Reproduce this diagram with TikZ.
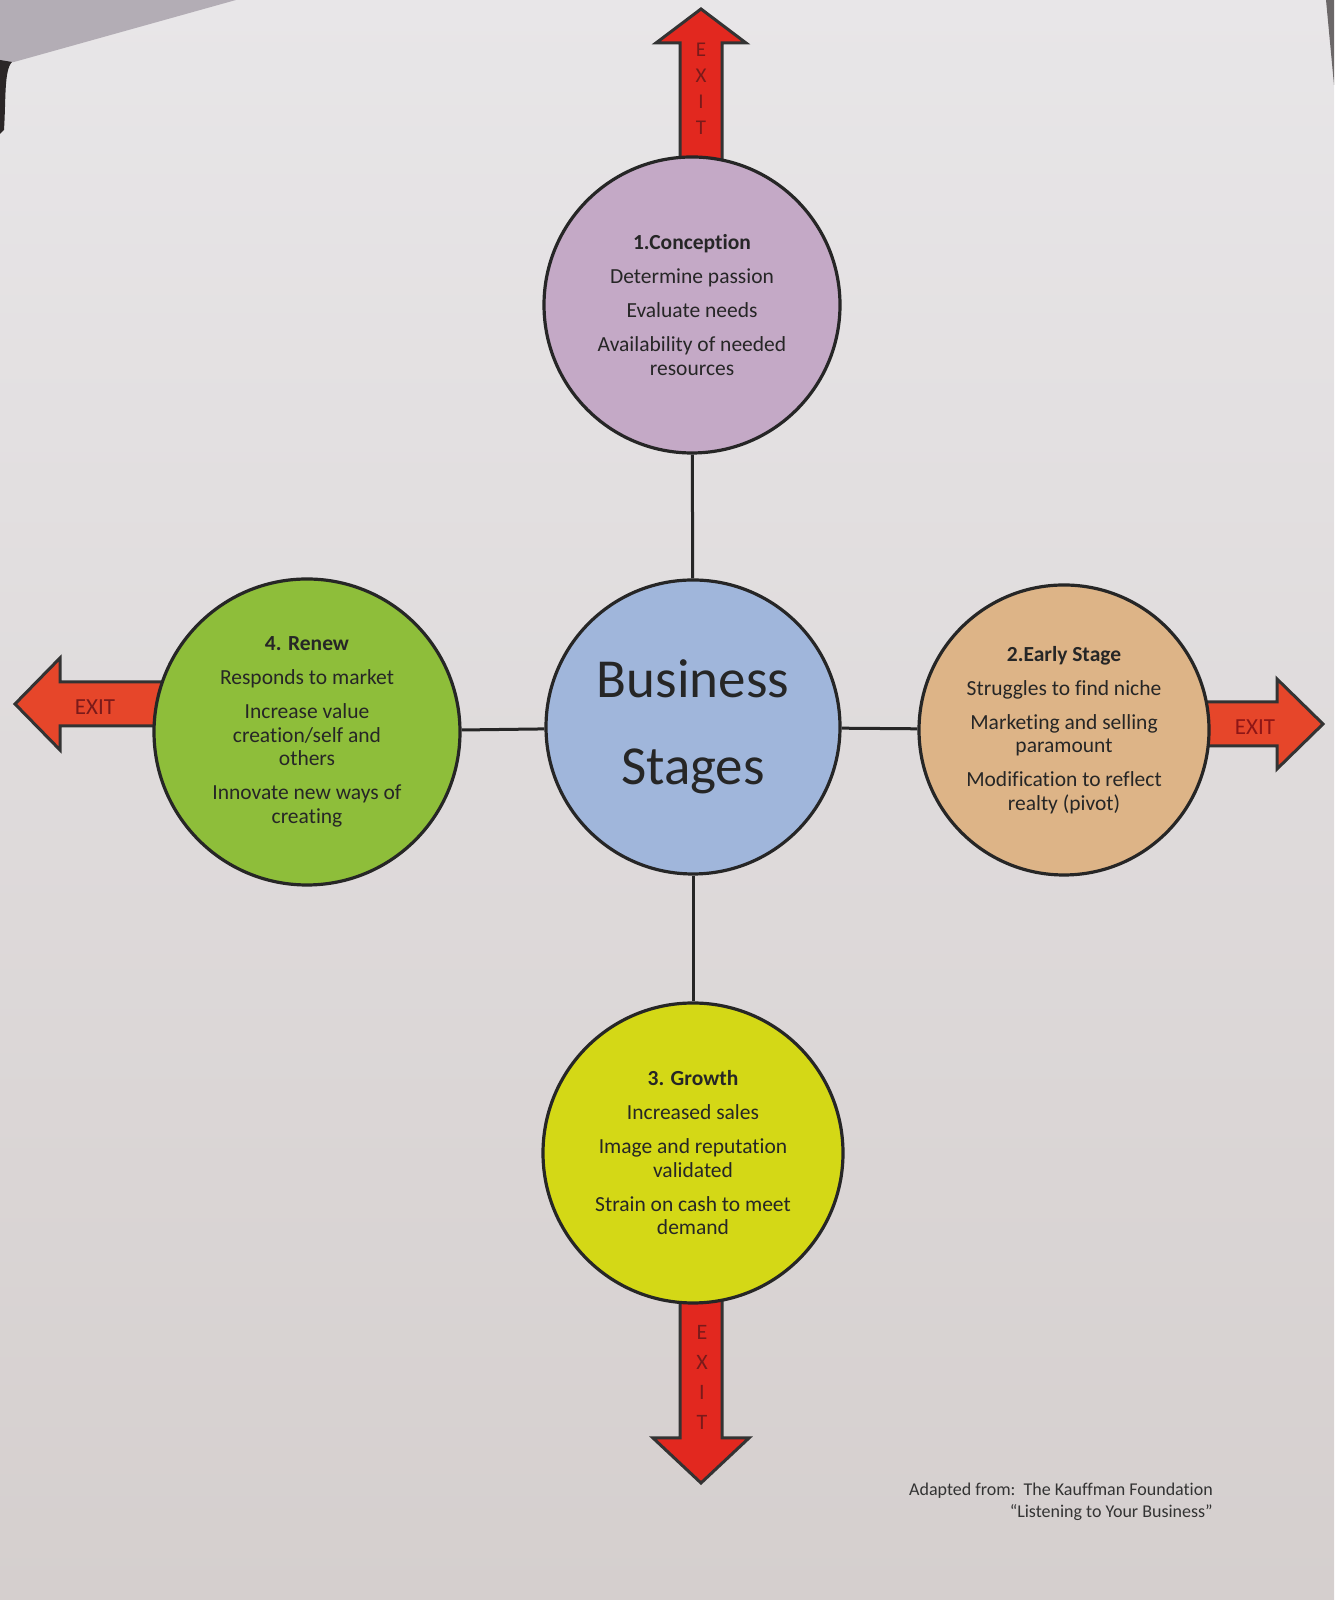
\documentclass[tikz,border=0pt]{standalone}
\usepackage{fontspec}
\setmainfont{Carlito}[Ligatures=NoCommon]

\definecolor{paperhi}{HTML}{E8E6E8}
\definecolor{paperlo}{HTML}{D5CFCE}
\definecolor{photogrey}{HTML}{B3ADB5}
\definecolor{photodark}{HTML}{2B2627}
\definecolor{conc}{HTML}{C4A9C6}
\definecolor{core}{HTML}{A0B6DB}
\definecolor{renew}{HTML}{8EBE3A}
\definecolor{early}{HTML}{DDB487}
\definecolor{growth}{HTML}{D4D816}
\definecolor{exitred}{HTML}{E2281F}
\definecolor{exitorange}{HTML}{E6462A}
\definecolor{exittext}{HTML}{7A1A1A}

\begin{document}
\begin{tikzpicture}[x=1pt,y=1pt,
    stage/.style={circle,draw=black!85,line width=3.2pt,inner sep=0pt,align=center,
      text=black!85,font=\fontsize{21.5}{23.5}\selectfont},
    link/.style={draw=black!85,line width=3pt},
    exitarrow/.style={draw=black!80,line width=3pt,line join=miter},
    exitlabel/.style={inner sep=0pt,align=center,text=exittext}]
  % paper of the photo
  \shade[top color=paperhi,bottom color=paperlo] (0,0) rectangle (1334,1600);
  \useasboundingbox (0,0) rectangle (1334,1600);
  \fill[photogrey] (0,1600) -- (236,1600) -- (14,1538) -- (0,1536) -- cycle;
  \fill[photodark] (0,1540) -- (12,1538) .. controls (4,1530) and (6,1500) .. (4,1470) -- (0,1466) -- cycle;
  \fill[photodark!70] (1326,1600) -- (1334,1600) -- (1334,1515) -- cycle;

  \coordinate (pconc) at (692,1295);
  \coordinate (pcore) at (693,873);
  \coordinate (pren) at (307,868);
  \coordinate (pear) at (1064,870);
  \coordinate (pgro) at (693,447);

  % exit arrows, behind the circles
  \draw[exitarrow,fill=exitred] (pconc) ++(-12,0) -- ++(0,262) -- ++(-24,0)
    -- ++(45,34) -- ++(45,-34) -- ++(-24,0) -- ++(0,-262) -- cycle;
  \node[exitlabel,font=\fontsize{21}{26}\selectfont] (exitup) at (701,1511) {E\\X\\I\\T};
  \draw[exitarrow,fill=exitred] (pgro) ++(-13,0) -- ++(0,-285) -- ++(-27,0)
    -- ++(48,-45) -- ++(48,45) -- ++(-27,0) -- ++(0,285) -- cycle;
  \node[exitlabel,font=\fontsize{22}{30}\selectfont] (exitdown) at (702,223) {E\\X\\I\\T};
  \draw[exitarrow,fill=exitorange] (pren) ++(0,50) -- ++(-247,0) -- ++(0,24)
    -- ++(-45,-46) -- ++(45,-46) -- ++(0,24) -- ++(247,0) -- cycle;
  \node[exitlabel,font=\fontsize{23}{26}\selectfont] (exitleft) at (95,893) {EXIT};
  \draw[exitarrow,fill=exitorange] (pear) ++(0,28) -- ++(213,0) -- ++(0,23)
    -- ++(46,-45) -- ++(-46,-45) -- ++(0,23) -- ++(-213,0) -- cycle;
  \node[exitlabel,text=exittext!85!red,font=\fontsize{23}{26}\selectfont] (exitright) at (1255,873) {EXIT};

  % the stages
  \node[stage,fill=conc,minimum size=296pt] (conc) at (pconc)
    {\textbf{1.Conception}\\[10.5pt] Determine passion\\[10.5pt] Evaluate needs\\[10.5pt]
     Availability of needed\\ resources};
  \node[stage,fill=core,minimum size=294pt,font=\fontsize{55}{87}\selectfont] (core) at (pcore)
    {Business\\Stages};
  \node[stage,fill=renew,minimum size=306pt] (renew) at (pren)
    {\textbf{4. Renew}\\[10.5pt] Responds to market\\[10.5pt] Increase value\\ creation/self and\\ others\\[10.5pt]
     Innovate new ways of\\ creating};
  \node[stage,fill=early,minimum size=290pt] (early) at (pear)
    {\textbf{2.Early Stage}\\[10.5pt] Struggles to find niche\\[10.5pt] Marketing and selling\\ paramount\\[10.5pt]
     Modification to reflect\\ realty (pivot)};
  \node[stage,fill=growth,minimum size=300pt] (growth) at (pgro)
    {\textbf{3. Growth}\\[10.5pt] Increased sales\\[10.5pt] Image and reputation\\ validated\\[10.5pt]
     Strain on cash to meet\\ demand};

  \draw[link] (conc) -- (core);
  \draw[link] (core) -- (early);
  \draw[link] (core) -- (growth);
  \draw[link] (core) -- (renew);

  \node[anchor=north east,inner sep=0pt,align=right,text=black!80,
    font=\fontsize{18}{21.5}\selectfont] (credit) at (1213,117)
    {Adapted from:\ \ The Kauffman Foundation\\“Listening to Your Business”};
\end{tikzpicture}
\end{document}
